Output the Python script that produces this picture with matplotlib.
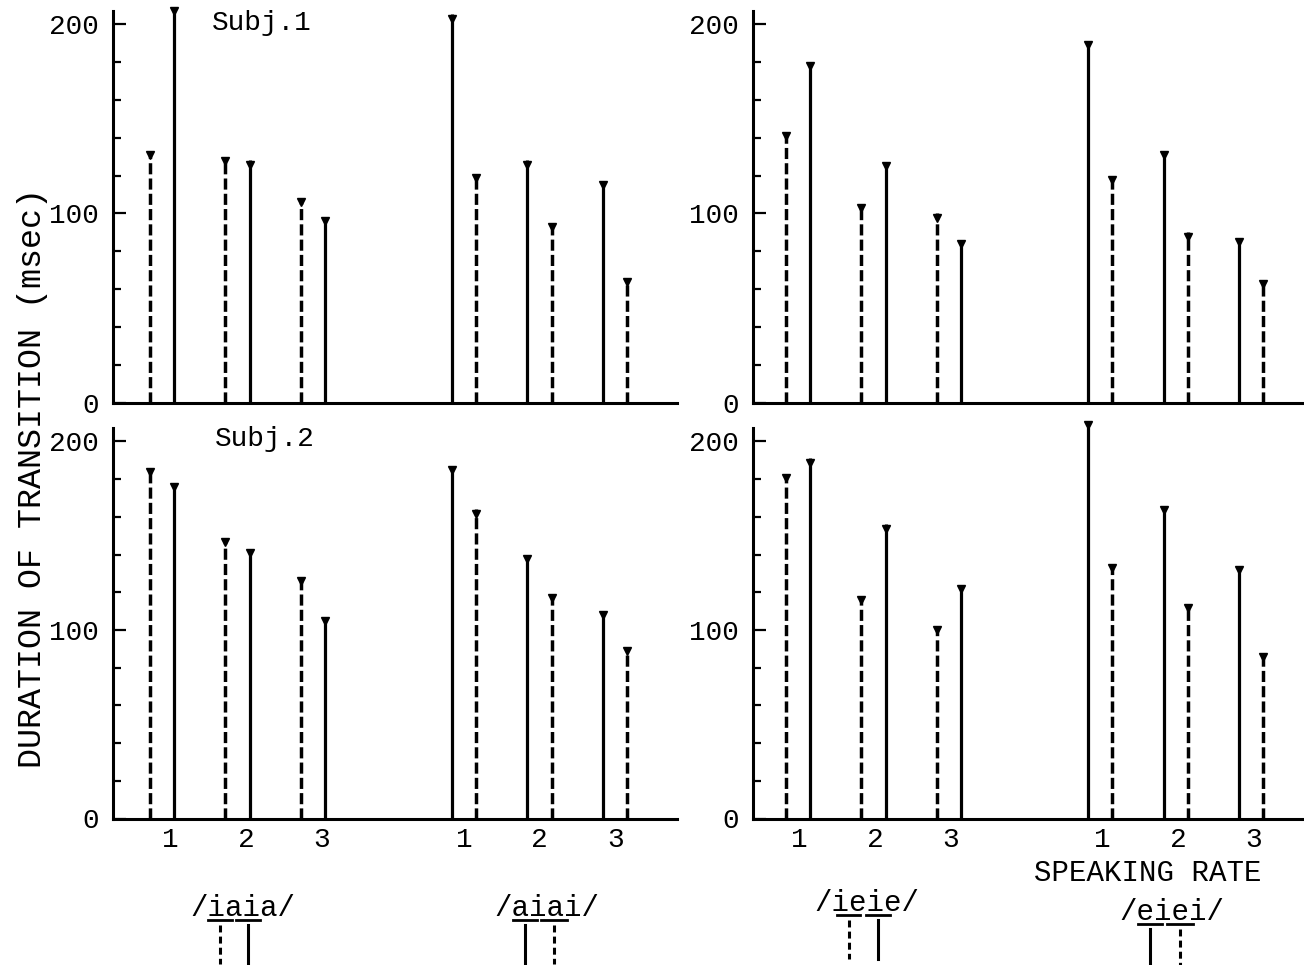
import matplotlib
matplotlib.use("Agg")
import matplotlib.pyplot as plt
from matplotlib.lines import Line2D
from matplotlib.ticker import MultipleLocator
from matplotlib.transforms import ScaledTranslation

plt.rcParams['font.family'] = ['Liberation Mono', 'DejaVu Sans Mono']
plt.rcParams['lines.scale_dashes'] = False

W, H, DPI = 1304, 965, 100

rates = [1, 2, 3]
rate_labels = ['1', '2', '3']
y_ticks = [0, 100, 200]

# Subj.1  (msec)
s1_iaia_dashed = [133, 130, 108]
s1_iaia_solid = [209, 128, 98]
s1_aiai_solid = [205, 128, 117]
s1_aiai_dashed = [121, 95, 66]
s1_ieie_dashed = [143, 105, 100]
s1_ieie_solid = [180, 127, 86]
s1_eiei_solid = [191, 133, 87]
s1_eiei_dashed = [120, 90, 65]

# Subj.2  (msec)
s2_iaia_dashed = [186, 149, 128]
s2_iaia_solid = [178, 143, 107]
s2_aiai_solid = [187, 140, 110]
s2_aiai_dashed = [164, 119, 91]
s2_ieie_dashed = [183, 118, 102]
s2_ieie_solid = [191, 156, 124]
s2_eiei_solid = [211, 166, 134]
s2_eiei_dashed = [135, 114, 88]

words = ['/iaia/', '/aiai/', '/ieie/', '/eiei/']

DASH = (0, (8, 3))
OFF = 0.16


def fx(px):
    return px / W


def fy(py):
    return 1 - py / H


fig = plt.figure(figsize=(W / DPI, H / DPI), dpi=DPI)


def stems(ax, xs, vals, dashed):
    ax.vlines(xs, 0, vals, colors='black', linewidth=2.5 if dashed else 2.3,
              linestyles=DASH if dashed else 'solid', capstyle='butt')
    shift = ScaledTranslation(0, -3 / 72, fig.dpi_scale_trans)
    ax.plot(xs, vals, 'v', ms=6, color='black', linestyle='none',
            transform=ax.transData + shift, clip_on=False)


def panel(rect, xlim, a_vals, b_vals, a_first_dashed, lab_shift, show_x):
    ax = fig.add_axes(rect)
    ax.set_xlim(*xlim)
    ax.set_ylim(0, 207)
    xa = [r for r in rates]
    xb = [r + 4 for r in rates]
    # group A: dashed left, solid right ; group B: solid left, dashed right
    stems(ax, [x - OFF for x in xa], a_vals[0], a_first_dashed)
    stems(ax, [x + OFF for x in xa], a_vals[1], not a_first_dashed)
    stems(ax, [x - OFF for x in xb], b_vals[0], not a_first_dashed)
    stems(ax, [x + OFF for x in xb], b_vals[1], a_first_dashed)

    for s in ('top', 'right'):
        ax.spines[s].set_visible(False)
    for s in ('left', 'bottom'):
        ax.spines[s].set_linewidth(2.2)

    ax.set_yticks(y_ticks)
    ax.set_yticklabels([str(v) for v in y_ticks])
    ax.yaxis.set_minor_locator(MultipleLocator(20))
    ax.tick_params(axis='y', which='major', direction='in', length=9,
                   width=1.6, pad=10, labelsize=20)
    ax.tick_params(axis='y', which='minor', direction='in', length=5.5,
                   width=1.6)
    if show_x:
        ax.set_xticks([x + lab_shift[0] for x in xa] + [x + lab_shift[1] for x in xb])
        ax.set_xticklabels(rate_labels + rate_labels)
        ax.tick_params(axis='x', length=0, pad=6, labelsize=20)
    else:
        ax.set_xticks([])
    return ax


top_b, top_h = fy(403), (403 - 10.7) / H
bot_b, bot_h = fy(818.5), (818.5 - 428.3) / H
left_rect_x, left_w = fx(113), 564 / W
right_rect_x, right_w = fx(753), 551 / W
left_xlim = (0.351, 7.82)
right_xlim = (0.404, 7.70)

panel([left_rect_x, top_b, left_w, top_h], left_xlim,
      (s1_iaia_dashed, s1_iaia_solid), (s1_aiai_solid, s1_aiai_dashed),
      True, (0.11, 0.0), False)
panel([right_rect_x, top_b, right_w, top_h], right_xlim,
      (s1_ieie_dashed, s1_ieie_solid), (s1_eiei_solid, s1_eiei_dashed),
      True, (0.02, 0.03), False)
panel([left_rect_x, bot_b, left_w, bot_h], left_xlim,
      (s2_iaia_dashed, s2_iaia_solid), (s2_aiai_solid, s2_aiai_dashed),
      True, (0.11, 0.0), True)
panel([right_rect_x, bot_b, right_w, bot_h], right_xlim,
      (s2_ieie_dashed, s2_ieie_solid), (s2_eiei_solid, s2_eiei_dashed),
      True, (0.02, 0.03), True)

fig.text(fx(262), fy(23), 'Subj.1', ha='center', va='center', fontsize=20)
fig.text(fx(265), fy(439), 'Subj.2', ha='center', va='center', fontsize=20)
fig.text(fx(33), fy(478), 'DURATION OF TRANSITION (msec)', rotation=90,
         ha='center', va='center', fontsize=24)
fig.text(fx(1148), fy(873), 'SPEAKING RATE', ha='center', va='center',
         fontsize=21)

# utterance labels with underlined transitions and the line-style key
word_xy = [(243, 908), (547, 908), (867, 903), (1172, 912)]
underlines = [((-35, -11), (-7, 17)), ((-34, -10), (-6, 20)),
              ((-30, -7), (-1, 23)), ((-34, -10), (-5, 21))]
first_dashed = [True, False, True, False]

for word, (cx, cy), segs, fd in zip(words, word_xy, underlines, first_dashed):
    fig.text(fx(cx), fy(cy), word, ha='center', va='center', fontsize=21)
    uy = cy + 12
    for k, (a, b) in enumerate(segs):
        fig.add_artist(Line2D([fx(cx + a), fx(cx + b)], [fy(uy), fy(uy)],
                              transform=fig.transFigure, color='black', lw=2))
        mx = cx + (a + b) / 2
        dashed = fd if k == 0 else not fd
        fig.add_artist(Line2D([fx(mx), fx(mx)], [fy(uy + 5), fy(uy + 44)],
                              transform=fig.transFigure, color='black', lw=2.2,
                              linestyle=(0, (5, 3)) if dashed else 'solid'))

fig.savefig('out.png', dpi=DPI, facecolor='white')
